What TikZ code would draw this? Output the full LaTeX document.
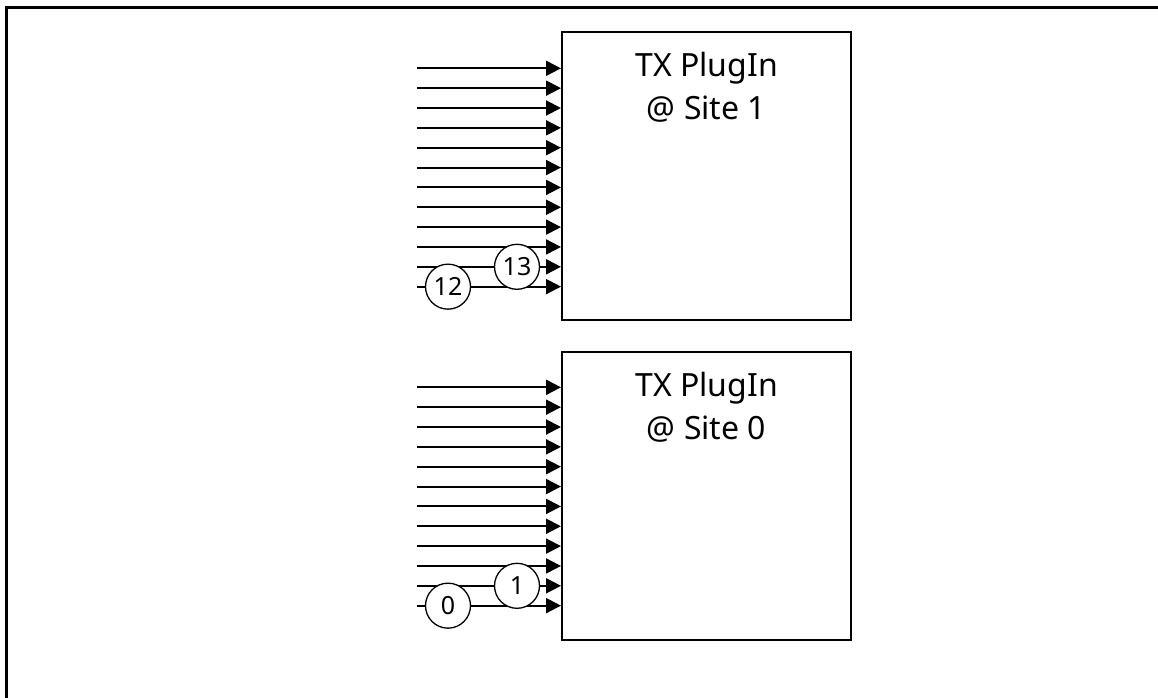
\documentclass[tikz,border=0pt]{standalone}
\usepackage{fontspec}
\setmainfont{Noto Sans}
\usetikzlibrary{arrows.meta}

\tikzset{
    plugbox/.style={draw, line width=2pt, minimum width=289pt, minimum height=288pt, inner sep=0pt},
    plugtext/.style={align=center, anchor=north, inner sep=0pt, font=\fontsize{32}{43}\selectfont},
    wire/.style={line width=2pt, -{Triangle[length=15pt,width=15pt]}},
    lane/.style={draw, circle, fill=white, line width=1.3pt, minimum size=45pt, inner sep=0pt, font=\fontsize{25}{25}\selectfont}
}

\begin{document}
\begin{tikzpicture}[x=1pt,y=-1pt]
    \useasboundingbox (0,0) rectangle (1158,698);
    \draw[line width=2.5pt] (6.5,698) -- (6.5,7.5) -- (1158,7.5);
    \node[plugbox] (site1) at (706.5,176) {};
    \node[plugbox] (site0) at (706.5,495.5) {};
    \node[plugtext] (site1text) at ([yshift=-21pt]site1.north) {TX PlugIn\\@ Site 1};
    \node[plugtext] (site0text) at ([yshift=-21pt]site0.north) {TX PlugIn\\@ Site 0};
    \foreach \s/\y in {site1/68.3, site0/387.3}
    {
        \foreach \i in {0,...,11}
        {
            \coordinate (\s-in\i) at (417,{\y+19.85*\i});
            \draw[wire] (\s-in\i) -- (\s-in\i -| \s.west);
        }
    }
    \node[lane, xshift=31pt] (lane12) at (site1-in11) {12};
    \node[lane, xshift=100pt] (lane13) at (site1-in10) {13};
    \node[lane, xshift=31pt] (lane0) at (site0-in11) {0};
    \node[lane, xshift=100pt] (lane1) at (site0-in10) {1};
\end{tikzpicture}
\end{document}
